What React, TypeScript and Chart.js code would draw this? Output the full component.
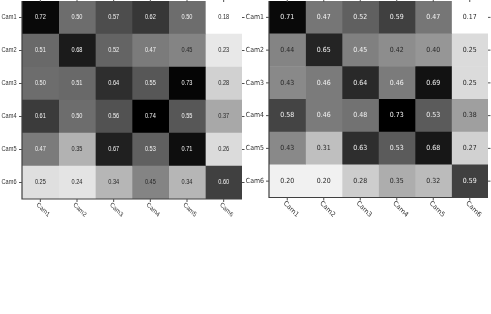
import React, { useEffect, useRef } from "react";
import { Chart, registerables } from "chart.js";

Chart.register(...registerables);

const CAMS = ["Cam1", "Cam2", "Cam3", "Cam4", "Cam5", "Cam6"];

const LEFT_VALUES: number[][] = [
  [0.72, 0.5, 0.57, 0.62, 0.5, 0.18],
  [0.51, 0.68, 0.52, 0.47, 0.45, 0.23],
  [0.5, 0.51, 0.64, 0.55, 0.73, 0.28],
  [0.61, 0.5, 0.56, 0.74, 0.55, 0.37],
  [0.47, 0.35, 0.67, 0.53, 0.71, 0.26],
  [0.25, 0.24, 0.34, 0.45, 0.34, 0.6],
];

const RIGHT_VALUES: number[][] = [
  [0.71, 0.47, 0.52, 0.59, 0.47, 0.17],
  [0.44, 0.65, 0.45, 0.42, 0.4, 0.25],
  [0.43, 0.46, 0.64, 0.46, 0.69, 0.25],
  [0.58, 0.46, 0.48, 0.73, 0.53, 0.38],
  [0.43, 0.31, 0.63, 0.53, 0.68, 0.27],
  [0.2, 0.2, 0.28, 0.35, 0.32, 0.59],
];

type PanelProps = {
  values: number[][];
  width: number;
  height: number;
  left: number;
  padding: { left: number; right: number; top: number; bottom: number };
  font: string;
  sx: number;
  yLabelGap: number;
};

function grayLevel(v: number, min: number, max: number) {
  const t = (max - v) / (max - min);
  return Math.round(Math.max(0, Math.min(1, t)) * 255);
}

function Panel(props: PanelProps) {
  const ref = useRef<HTMLCanvasElement | null>(null);
  useEffect(() => {
    const canvas = ref.current;
    if (!canvas) return;
    const { values, font, sx, yLabelGap } = props;
    const flat = values.flat();
    const vmin = Math.min(...flat);
    const vmax = Math.max(...flat);

    const drawText = (
      ctx: CanvasRenderingContext2D,
      text: string,
      x: number,
      y: number,
      align: CanvasTextAlign,
      rot: number
    ) => {
      ctx.save();
      ctx.translate(x, y);
      ctx.scale(sx, 1);
      if (rot) ctx.rotate(rot);
      ctx.textAlign = align;
      ctx.textBaseline = "middle";
      ctx.fillText(text, 0, 0);
      ctx.restore();
    };

    const heatPlugin = {
      id: "heatDecor",
      afterDraw(chart: any) {
        const ctx: CanvasRenderingContext2D = chart.ctx;
        const xs = chart.scales.x;
        const ys = chart.scales.y;
        const area = chart.chartArea;
        ctx.save();
        ctx.font = font;
        // cell values
        values.forEach((row, r) => {
          row.forEach((v, c) => {
            const g = grayLevel(v, vmin, vmax);
            ctx.fillStyle = g <= 128 ? "#f4f4f4" : "#262626";
            drawText(ctx, v.toFixed(2), xs.getPixelForValue(c + 0.5), ys.getPixelForValue(r), "center", 0);
          });
        });
        // axis lines
        ctx.strokeStyle = "#404040";
        ctx.lineWidth = 1.2;
        ctx.beginPath();
        ctx.moveTo(area.left, area.top);
        ctx.lineTo(area.left, area.bottom);
        ctx.lineTo(area.right, area.bottom);
        ctx.stroke();
        // ticks
        ctx.lineWidth = 1;
        ctx.strokeStyle = "#505050";
        ctx.beginPath();
        CAMS.forEach((_, i) => {
          const y = ys.getPixelForValue(i);
          ctx.moveTo(area.left - 3, y);
          ctx.lineTo(area.left, y);
          ctx.moveTo(area.right, y);
          ctx.lineTo(area.right + 2.5, y);
          const x = xs.getPixelForValue(i + 0.5);
          ctx.moveTo(x, area.bottom);
          ctx.lineTo(x, area.bottom + 3);
          ctx.moveTo(x, area.top - 2);
          ctx.lineTo(x, area.top + 1);
        });
        ctx.stroke();
        // labels
        ctx.fillStyle = "#333333";
        CAMS.forEach((name, i) => {
          drawText(ctx, name, area.left - yLabelGap, ys.getPixelForValue(i), "right", 0);
          drawText(
            ctx,
            name,
            xs.getPixelForValue(i + 0.5) - 3,
            area.bottom + 5,
            "left",
            Math.atan(sx)
          );
        });
        ctx.restore();
      },
    };

    const chart = new Chart(canvas, {
      type: "bar",
      data: {
        labels: CAMS,
        datasets: CAMS.map((_, c) => ({
          data: CAMS.map(() => [c, c + 1]) as any,
          backgroundColor: values.map((row) => {
            const g = grayLevel(row[c], vmin, vmax);
            return `rgb(${g},${g},${g})`;
          }),
          borderWidth: 0,
          barPercentage: 1,
          categoryPercentage: 1,
          grouped: false,
        })),
      },
      options: {
        indexAxis: "y",
        animation: false,
        responsive: false,
        events: [],
        layout: { padding: props.padding },
        plugins: { legend: { display: false }, tooltip: { enabled: false } },
        scales: {
          x: { type: "linear", min: 0, max: 6, display: false },
          y: { type: "category", display: false, offset: true },
        },
      } as any,
      plugins: [heatPlugin],
    });
    return () => chart.destroy();
  }, []);
  return (
    <canvas
      ref={ref}
      width={props.width}
      height={props.height}
      style={{ position: "absolute", left: props.left, top: 0, width: props.width, height: props.height }}
    />
  );
}

export default function App() {
  return (
    <div style={{ position: "fixed", left: 0, top: 0, width: 491, height: 314, background: "#ffffff" }}>
      <Panel
        values={LEFT_VALUES}
        width={245}
        height={314}
        left={0}
        padding={{ left: 22, right: 3, top: 1, bottom: 115 }}
        font={'7px "Liberation Sans"'}
        sx={0.8}
        yLabelGap={5.5}
      />
      <Panel
        values={RIGHT_VALUES}
        width={246}
        height={314}
        left={245}
        padding={{ left: 24, right: 3, top: 1, bottom: 116.5 }}
        font={'7px "DejaVu Sans"'}
        sx={0.89}
        yLabelGap={5}
      />
    </div>
  );
}
